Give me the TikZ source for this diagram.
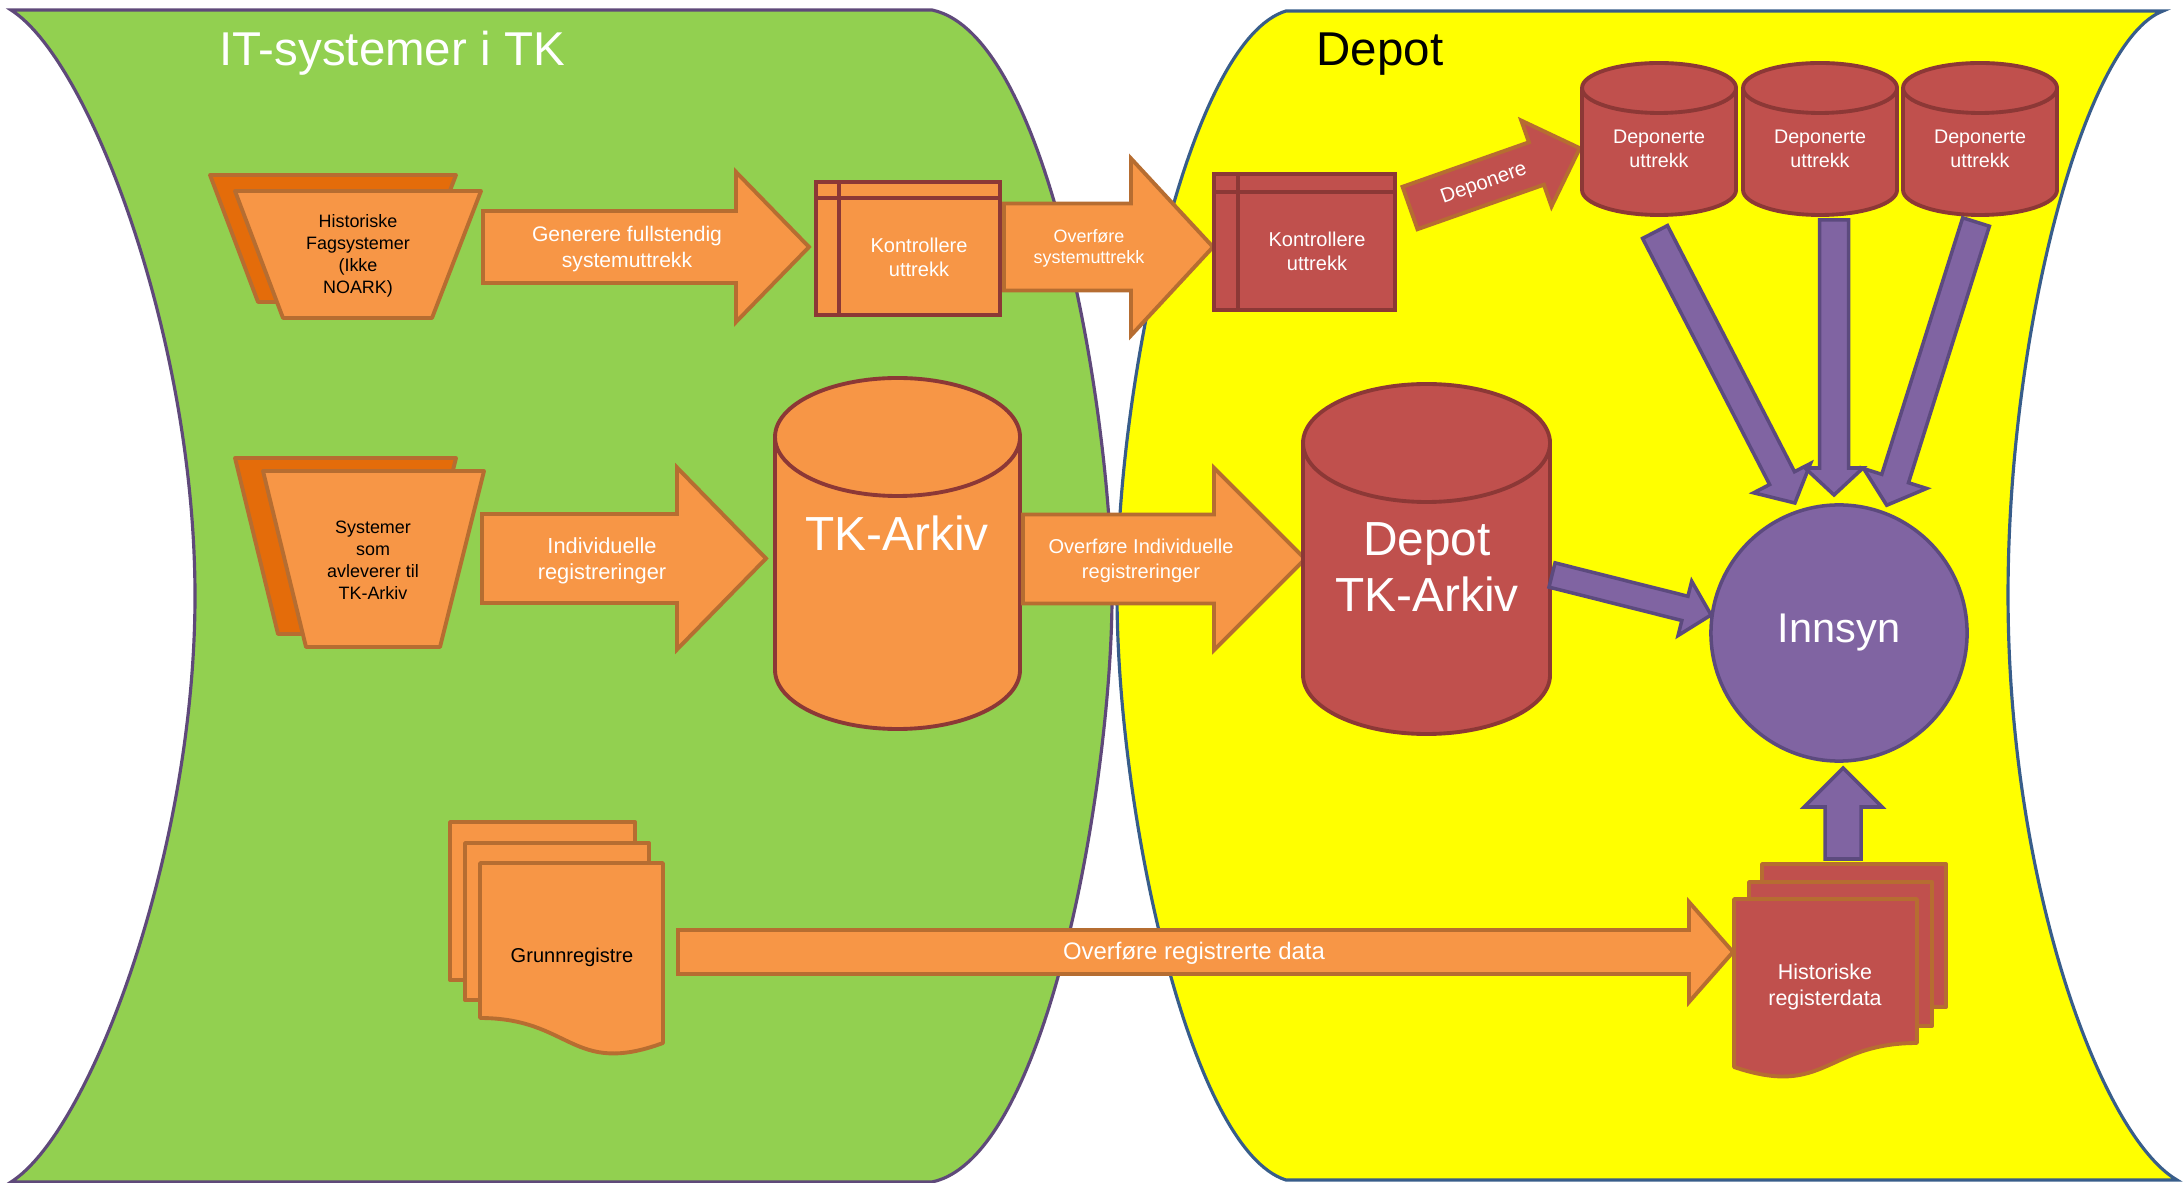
\documentclass[tikz,border=0pt]{standalone}
\usepackage{fontspec}
\setmainfont{Liberation Sans}
\usepackage{xcolor}
\usetikzlibrary{positioning,calc}

\definecolor{gronn}{HTML}{92D050}
\definecolor{gronnkant}{HTML}{5F497A}
\definecolor{gul}{HTML}{FFFF00}
\definecolor{gulkant}{HTML}{385D8A}
\definecolor{oransje}{HTML}{F79646}
\definecolor{oransjekant}{HTML}{B66D31}
\definecolor{morkoransje}{HTML}{E46C0A}
\definecolor{rod}{HTML}{C0504D}
\definecolor{rodkant}{HTML}{8C3836}
\definecolor{lilla}{HTML}{8064A2}
\definecolor{lillakant}{HTML}{5C4A7E}

% block arrow along +x from the local origin: [style]{length}{shaft half}{head half}{head length}
\newcommand{\blokkpil}[5][]{%
  \draw[#1] (0,-#3) -- ({#2-#5},-#3) -- ({#2-#5},-#4) -- (#2,0)
    -- ({#2-#5},#4) -- ({#2-#5},#3) -- (0,#3) -- cycle;}

% upright cylinder: [style]{cx}{top y}{bottom y}{rx}{ry}
\newcommand{\tonne}[6][]{%
  \draw[#1] ({#2-#5},#3) -- ({#2-#5},#4) arc[start angle=180,end angle=360,x radius=#5,y radius=#6]
    -- ({#2+#5},#3) arc[start angle=0,end angle=180,x radius=#5,y radius=#6] -- cycle;
  \draw[#1,fill=none] ({#2-#5},#3) arc[start angle=180,end angle=360,x radius=#5,y radius=#6];}

\begin{document}
\begin{tikzpicture}[
  x=0.01cm, y=0.01cm,
  felt/.style={line width=0.9pt},
  bakfag/.style={fill=morkoransje, draw=oransjekant, line width=1.1pt, line join=round},
  fag/.style={fill=oransje, draw=oransjekant, line width=1.1pt, line join=round},
  pil/.style={fill=oransje, draw=oransjekant, line width=1.1pt, line join=miter},
  rodpil/.style={fill=rod, draw=oransjekant, line width=1.1pt, line join=miter},
  lillapil/.style={fill=lilla, draw=lillakant, line width=1pt, line join=miter},
  kontroll/.style={draw=rodkant, line width=1.1pt},
  lager/.style={draw=rodkant, line width=1.1pt},
  dok/.style={draw=oransjekant, line width=1.1pt, line join=round},
  svart/.style={align=center, inner sep=0pt, text=black},
  hvit/.style={align=center, inner sep=0pt, text=white},
]
\useasboundingbox (0,0) rectangle (2183,-1183);

% Depot (yellow field)
\draw[felt, fill=gul, draw=gulkant] (1286,-11) -- (2163,-11)
  .. controls (2085,-40) and (2008,-330) .. (2008,-595)
  .. controls (2008,-880) and (2100,-1135) .. (2177,-1180)
  -- (1286,-1180)
  .. controls (1190,-1150) and (1117,-810) .. (1117,-595)
  .. controls (1117,-380) and (1190,-40) .. cycle;

% IT-systemer (green field)
\draw[felt, fill=gronn, draw=gronnkant] (11,-10) -- (932,-10)
  .. controls (1050,-35) and (1112,-420) .. (1112,-596)
  .. controls (1112,-772) and (1050,-1157) .. (932,-1182)
  -- (11,-1182)
  .. controls (90,-1132) and (195,-852) .. (195,-596)
  .. controls (195,-340) and (90,-60) .. cycle;

\node[font=\fontsize{13.5}{16}\selectfont, text=white, anchor=base] (itsys) at (392,-66) {IT-systemer i TK};
\node[font=\fontsize{13.5}{16}\selectfont, anchor=base] (depottittel) at (1380,-66) {Depot};

% Historiske fagsystemer
\draw[bakfag] (210,-175) -- (456,-175) -- (407,-302) -- (258,-302) -- cycle;
\draw[fag] (235,-191) -- (481,-191) -- (432,-318) -- (283,-318) -- cycle;
\node[svart, font=\fontsize{5.1}{6.3}\selectfont] (histfag) at (358,-256) {Historiske\\Fagsystemer\\(Ikke\\NOARK)};

% Systemer som avleverer
\draw[bakfag] (235,-458) -- (456,-458) -- (412,-634) -- (278,-634) -- cycle;
\draw[fag] (263,-471) -- (484,-471) -- (440,-647) -- (306,-647) -- cycle;
\node[svart, font=\fontsize{5.1}{6.3}\selectfont] (systemer) at (373,-560) {Systemer\\som\\avleverer til\\TK-Arkiv};

% Generere fullstendig systemuttrekk
\begin{scope}[shift={(483,-247)}]
  \blokkpil[pil]{326}{36}{75}{73}
\end{scope}
\node[hvit, font=\fontsize{6}{7.6}\selectfont] (generere) at (627,-249) {Generere fullstendig\\systemuttrekk};

% Kontrollere uttrekk (IT)
\draw[kontroll, fill=oransje] (816,-182) rectangle (1000,-315);
\draw[kontroll] (839,-182) -- (839,-315) (816,-198) -- (1000,-198);
\node[hvit, font=\fontsize{5.7}{6.8}\selectfont] (kontroll1) at (919,-257) {Kontrollere\\uttrekk};

% Overfore systemuttrekk
\begin{scope}[shift={(1004,-247)}]
  \blokkpil[pil]{209}{43.5}{88.5}{82}
\end{scope}
\node[hvit, font=\fontsize{5.1}{6}\selectfont] (overfsys) at (1089,-248) {Overføre\\systemuttrekk};

% Kontrollere uttrekk (Depot)
\draw[kontroll, fill=rod] (1214,-174) rectangle (1395,-310);
\draw[kontroll] (1238,-174) -- (1238,-310) (1214,-192) -- (1395,-192);
\node[hvit, font=\fontsize{5.7}{6.8}\selectfont] (kontroll2) at (1317,-251) {Kontrollere\\uttrekk};

% Deponere
\begin{scope}[shift={(1410,-208)}, rotate=19.4]
  \blokkpil[rodpil]{180}{22.5}{45.5}{46}
\end{scope}
\node[hvit, font=\fontsize{5.8}{7}\selectfont, rotate=19.4] (deponere) at (1484,-184) {Deponere};

% Deponerte uttrekk
\tonne[lager, fill=rod]{1659}{-88}{-190}{77}{25}
\tonne[lager, fill=rod]{1820}{-88}{-190}{77}{25}
\tonne[lager, fill=rod]{1980}{-88}{-190}{77}{25}
\node[hvit, font=\fontsize{5.6}{6.8}\selectfont] (dep1) at (1659,-149) {Deponerte\\uttrekk};
\node[hvit, font=\fontsize{5.6}{6.8}\selectfont] (dep2) at (1820,-149) {Deponerte\\uttrekk};
\node[hvit, font=\fontsize{5.6}{6.8}\selectfont] (dep3) at (1980,-149) {Deponerte\\uttrekk};

% Individuelle registreringer
\begin{scope}[shift={(482,-558.5)}]
  \blokkpil[pil]{284}{44.5}{91}{89}
\end{scope}
\node[hvit, font=\fontsize{6.2}{7.4}\selectfont] (individ) at (602,-561) {Individuelle\\registreringer};

% TK-Arkiv
\tonne[lager, fill=oransje]{897.5}{-437}{-670}{122.5}{59}
\node[hvit, font=\fontsize{13.6}{16}\selectfont, anchor=base] (tkarkiv) at (897,-551) {TK-Arkiv};

% Overfore Individuelle registreringer
\begin{scope}[shift={(1023,-559)}]
  \blokkpil[pil]{282}{44.5}{91}{91}
\end{scope}
\node[hvit, font=\fontsize{5.7}{7}\selectfont] (overfind) at (1141,-561) {Overføre Individuelle\\registreringer};

% Depot TK-Arkiv
\tonne[lager, fill=rod]{1426.5}{-443}{-675}{123.5}{59}
\node[hvit, font=\fontsize{13.6}{16}\selectfont] (depotarkiv) at (1427,-567) {Depot\\TK-Arkiv};

% Innsyn
\node[circle, fill=lilla, draw=lillakant, line width=1pt, minimum size=2.56cm, inner sep=0pt,
  text=white, font=\fontsize{11.8}{14}\selectfont] (innsyn) at (1839,-633) {Innsyn};

\begin{scope}[shift={(1655,-232)}, rotate=-62.7]
  \blokkpil[lillapil]{305}{14}{32}{28}
\end{scope}
\begin{scope}[shift={(1834,-220)}, rotate=-90]
  \blokkpil[lillapil]{275}{14.5}{29}{27}
\end{scope}
\begin{scope}[shift={(1976,-222)}, rotate=-107.5]
  \blokkpil[lillapil]{297}{14}{33}{28}
\end{scope}
\begin{scope}[shift={(1552,-575)}, rotate=-14.1]
  \blokkpil[lillapil]{164}{12.5}{28}{27}
\end{scope}

% Grunnregistre
\draw[dok, fill=oransje] (450,-822) rectangle (635,-980);
\draw[dok, fill=oransje] (465,-843) rectangle (649,-1000);
\draw[dok, fill=oransje] (480,-863) -- (663,-863) -- (663,-1043)
  .. controls (571.5,-1076.7) and (571.5,-1018) .. (480,-1018) -- cycle;
\node[svart, font=\fontsize{5.7}{6.8}\selectfont] (grunnreg) at (572,-957) {Grunnregistre};

% Overfore registrerte data
\begin{scope}[shift={(678,-952)}]
  \blokkpil[pil]{1055}{22}{50}{44}
\end{scope}
\node[hvit, font=\fontsize{6.8}{8}\selectfont] (overfreg) at (1194,-953) {Overføre registrerte data};

% Historiske registerdata
\draw[dok, fill=rod] (1762,-864) rectangle (1946,-1007);
\draw[dok, fill=rod] (1749,-882) rectangle (1932,-1026);
\draw[dok, fill=rod] (1734,-899) -- (1917,-899) -- (1917,-1043)
  .. controls (1825.5,-1043) and (1825.5,-1098) .. (1734,-1067) -- cycle;
\node[hvit, font=\fontsize{6.1}{7.4}\selectfont] (histreg) at (1825,-987) {Historiske\\registerdata};

\begin{scope}[shift={(1843,-859)}, rotate=90]
  \blokkpil[lillapil]{91}{18}{39}{39}
\end{scope}

\end{tikzpicture}
\end{document}
